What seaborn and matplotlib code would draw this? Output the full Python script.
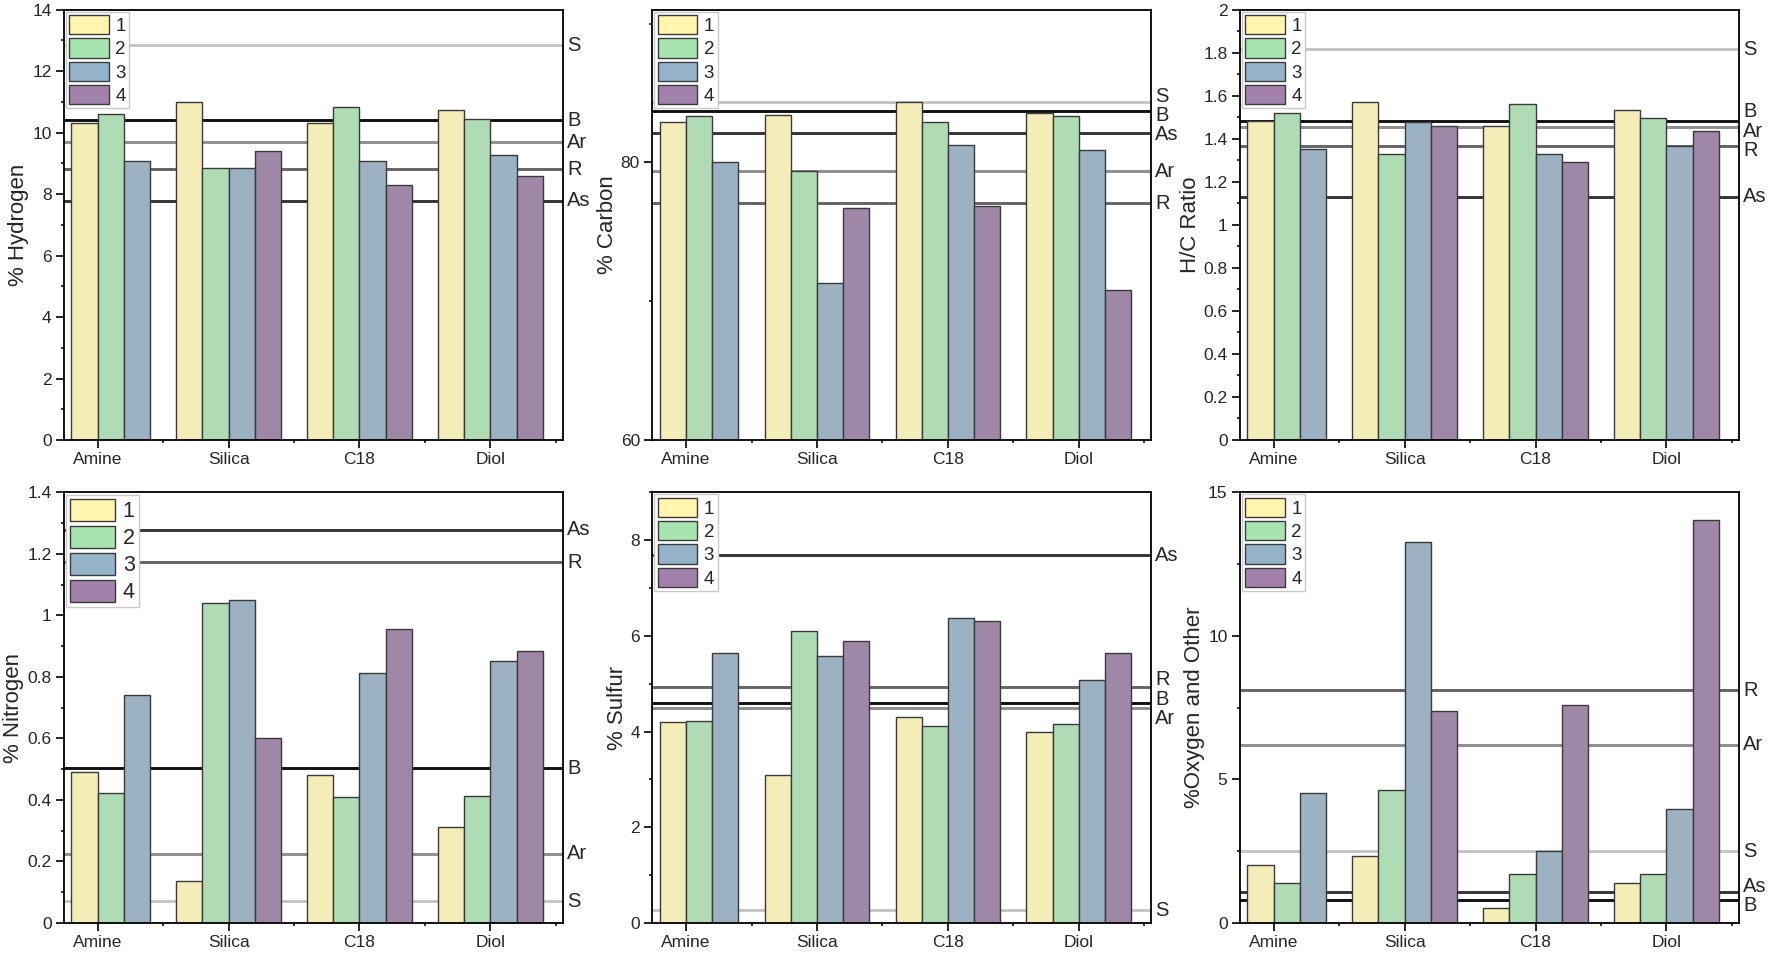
import numpy as np
import pandas as pd
import matplotlib
matplotlib.use('Agg')
import matplotlib.pyplot as plt
import seaborn as sns
from matplotlib.ticker import MultipleLocator, FixedLocator, FuncFormatter
from matplotlib.patches import Patch

# 칼럼 / 분획
columns = ['Amine', 'Silica', 'C18', 'Diol']
fractions = ['1', '2', '3', '4']
nan = np.nan

# 분획별 값 (행 = 분획 1..4, 열 = Amine, Silica, C18, Diol)
hydrogen = [[10.32, 11.00, 10.32, 10.73],
            [10.61, 8.86, 10.85, 10.45],
            [9.08, 8.85, 9.07, 9.27],
            [nan, 9.39, 8.31, 8.58]]
carbon = [[82.89, 83.39, 84.37, 83.56],
          [83.32, 79.38, 82.89, 83.35],
          [80.00, 71.31, 81.24, 80.90],
          [nan, 76.73, 76.83, 70.80]]
hc_ratio = [[1.481, 1.571, 1.458, 1.533],
            [1.519, 1.331, 1.560, 1.496],
            [1.353, 1.478, 1.330, 1.365],
            [nan, 1.461, 1.291, 1.438]]
nitrogen = [[0.492, 0.137, 0.482, 0.312],
            [0.422, 1.040, 0.408, 0.412],
            [0.741, 1.049, 0.813, 0.851],
            [nan, 0.600, 0.955, 0.883]]
sulfur = [[4.20, 3.09, 4.30, 4.00],
          [4.22, 6.10, 4.12, 4.16],
          [5.64, 5.59, 6.38, 5.08],
          [nan, 5.90, 6.32, 5.65]]
oxygen = [[2.02, 2.33, 0.51, 1.39],
          [1.39, 4.61, 1.70, 1.70],
          [4.52, 13.26, 2.49, 3.96],
          [nan, 7.39, 7.58, 14.05]]

# 기준선 (B, As, R, Ar, S 순서)
ref_names = ['B', 'As', 'R', 'Ar', 'S']
hydrogen_refs = [10.40, 7.78, 8.81, 9.69, 12.84]
carbon_refs = [83.68, 82.12, 77.04, 79.38, 84.32]
hc_refs = [1.485, 1.130, 1.365, 1.455, 1.817]
nitrogen_refs = [0.503, 1.279, 1.173, 0.225, 0.070]
sulfur_refs = [4.60, 7.69, 4.93, 4.49, 0.26]
oxygen_refs = [0.79, 1.07, 8.10, 6.21, 2.50]

bar_colors = ['#fff5ae', '#a7e4b0', '#95b3c9', '#a281ad']
ref_colors = {'B': '#111111', 'As': '#353535', 'R': '#656565',
              'Ar': '#8e8e8e', 'S': '#c4c4c4'}

sns.set_theme(style='ticks')
plt.rcParams['font.family'] = ['Liberation Sans', 'DejaVu Sans']


def spread(fracs, gap):
    # 라벨이 겹치지 않게 위아래로 벌리기
    order = np.argsort(fracs)
    pos = np.array(fracs, float)[order]
    for _ in range(300):
        moved = False
        for i in range(len(pos) - 1):
            d = pos[i + 1] - pos[i]
            if d < gap - 1e-6:
                s = (gap - d) / 2
                pos[i] -= s
                pos[i + 1] += s
                moved = True
        if not moved:
            break
    out = np.empty_like(pos)
    out[order] = pos
    return out


panels = [
    (hydrogen, hydrogen_refs, '% Hydrogen', (0, 14), 2, 1),
    (carbon, carbon_refs, '% Carbon', (60, 91), 20, 10),
    (hc_ratio, hc_refs, 'H/C Ratio', (0, 2), 0.2, 0.1),
    (nitrogen, nitrogen_refs, '% Nitrogen', (0, 1.4), 0.2, 0.1),
    (sulfur, sulfur_refs, '% Sulfur', (0, 9), 2, 1),
    (oxygen, oxygen_refs, '%Oxygen and Other', (0, 15), 5, 2.5),
]

fig = plt.figure(figsize=(17.73, 9.55), dpi=100)
lefts = [0.0361, 0.368, 0.6994]
bottoms = [0.5393, 0.0338]
w, h = 0.2814, 0.4505

for i, (vals, refs, ylabel, ylim, major, minor) in enumerate(panels):
    ax = fig.add_axes([lefts[i % 3], bottoms[i // 3], w, h])
    rows = []
    for f, series in zip(fractions, vals):
        for c, v in zip(columns, series):
            rows.append({'column': c, 'fraction': f, 'value': v})
    df = pd.DataFrame(rows).dropna()

    sns.barplot(data=df, x='column', y='value', hue='fraction',
                order=columns, hue_order=fractions, palette=bar_colors,
                edgecolor='#3a3a3a', linewidth=1.0, width=0.8,
                errorbar=None, legend=False, ax=ax)
    # Amine 그룹은 첫 칸이 비어 있음 -> 한 칸 오른쪽으로
    for p in ax.patches:
        if p.get_x() + p.get_width() / 2 < 0.5:
            p.set_x(p.get_x() + 0.2)

    ax.set_xlim(-0.257, 3.554)
    ax.set_ylim(ylim)

    for name, v in zip(ref_names, refs):
        ax.axhline(v, color=ref_colors[name], lw=2.1, zorder=0.5)
    fracs = [(v - ylim[0]) / (ylim[1] - ylim[0]) for v in refs]
    for name, y in zip(ref_names, spread(fracs, 0.045)):
        ax.text(1.008, y, name, transform=ax.transAxes, ha='left',
                va='center', fontsize=14.5)

    ax.yaxis.set_major_locator(MultipleLocator(major))
    ax.yaxis.set_minor_locator(MultipleLocator(minor))
    ax.yaxis.set_major_formatter(FuncFormatter(lambda v, _: f'{v:g}'))
    ax.xaxis.set_minor_locator(FixedLocator([0.5, 1.5, 2.5, 3.5]))
    ax.tick_params(which='major', direction='out', length=5.5, width=1.2,
                   color='black')
    ax.tick_params(which='minor', direction='out', length=2.5, width=1.1,
                   color='black')
    ax.tick_params(axis='y', labelsize=12.5)
    ax.tick_params(axis='x', labelsize=12.5)
    for s in ax.spines.values():
        s.set_visible(True)
        s.set_color('black')
        s.set_linewidth(1.3)
    ax.set_xlabel('')
    ax.set_ylabel(ylabel, fontsize=16, labelpad=2)

    handles = [Patch(facecolor=c, edgecolor='#3a3a3a', lw=1) for c in bar_colors]
    big = (i == 3)
    ax.legend(handles, fractions, loc='upper left',
              fontsize=15.5 if big else 13.5, frameon=True, fancybox=False,
              edgecolor='#c8c8c8', framealpha=1, handlelength=2.1,
              handleheight=1.2, labelspacing=0.18, handletextpad=0.35,
              borderpad=0.18, borderaxespad=0.1)

fig.savefig('out.png', dpi=100)
